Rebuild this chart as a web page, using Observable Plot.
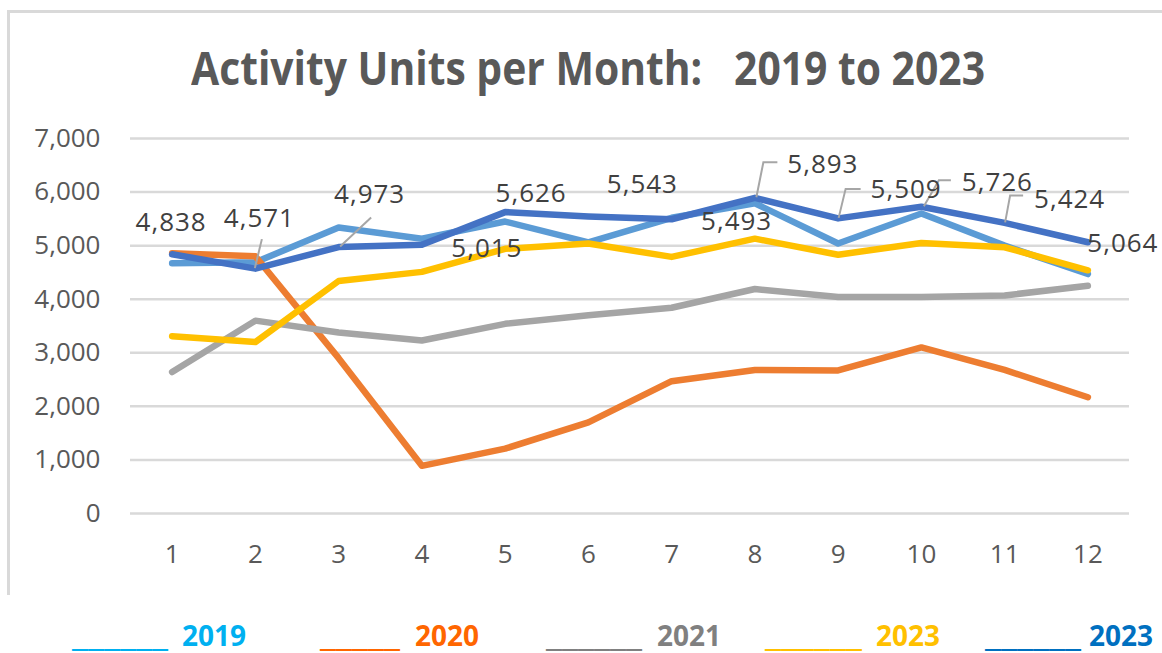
<!DOCTYPE html>
<html><head><meta charset="utf-8">
<script src="https://cdn.jsdelivr.net/npm/d3@7"></script>
<script src="https://cdn.jsdelivr.net/npm/@observablehq/plot@0.6"></script>
<style>
html,body{margin:0;padding:0;background:#fff;width:1162px;height:653px;overflow:hidden;position:relative;font-family:"Open Sans",sans-serif;}
#frame{position:absolute;left:7px;top:10px;width:1300px;height:585px;border-top:3px solid #D9D9D9;border-left:3px solid #D9D9D9;box-sizing:border-box;}
#title{position:absolute;left:191px;top:44px;font-weight:700;font-size:46px;line-height:1;color:#595959;white-space:pre;transform-origin:0 0;}
#chart{position:absolute;left:0;top:110px;}
.leg{position:absolute;top:621px;font-weight:700;font-size:28px;line-height:1;white-space:pre;transform-origin:0 0;}
#chart g[aria-label="text"] text{letter-spacing:1px;}
</style></head><body>
<div id="frame"></div>
<div id="title"></div>
<div id="chart"></div>
<div id="legend"></div>
<script>
// ---- data ----
const titleText = "Activity Units per Month:   2019 to 2023";
const months = [1,2,3,4,5,6,7,8,9,10,11,12];
const yTicks = [0,1000,2000,3000,4000,5000,6000,7000];
const seriesIds = ["s2019","s2020","s2021","s2023a","s2023b"];
const legendLabels = ["2019","2020","2021","2023","2023"];
const s2019  = [4670,4690,5340,5130,5450,5060,5520,5790,5040,5600,5000,4470];
const s2020  = [4860,4800,2900,890,1210,1700,2470,2680,2670,3100,2680,2170];
const s2021  = [2640,3600,3380,3230,3540,3700,3840,4190,4040,4040,4070,4250];
const s2023a = [3310,3200,4340,4510,4940,5040,4790,5130,4830,5050,4970,4540];
const s2023b = [4838,4571,4973,5015,5626,5543,5493,5893,5509,5726,5424,5064];

// ---- styles / layout ----
const lineColors = ["#5B9BD5","#ED7D31","#A5A5A5","#FFC000","#4472C4"];
const legendColors = ["#00B0F0","#FF6600","#808080","#FFC000","#0070C0"];
const legendUnderscores = [6,5,6,6,6];
const legendULeft = [72,320,546,765,985];
const legendUWidth = [96,80,96,97,96];
const legendYLeft = [182,415,657,876,1089];
// label offsets in pixels (label centre x, baseline y) relative to the point
const labelOffsets = [[-1,-23],[4,-42],[31,-44],[65,12],[26,-10],[54,-24],[65,11],[68,-25],[68,-20],[76,-16],[65,-15],[35,10]];
// leader-line paths (pixel offsets from point) keyed by month index
const leaders = [
  [1, [[0,0],[7,-29]]],
  [2, [[2,0],[33,-29]]],
  [7, [[2,0],[9,-35],[23,-35]]],
  [8, [[1,0],[8,-29],[23,-29]]],
  [9, [[3,0],[18,-26],[30,-26]]],
  [10,[[1,0],[6,-27],[19,-27]]]
];

const allSeries = [s2019, s2020, s2021, s2023a, s2023b];
const rows = [];
allSeries.forEach((s, k) => s.forEach((v, i) => rows.push({month: months[i], value: v, series: seriesIds[k]})));

const fmt = d3.format(",d");

function leaderMark(index, scales) {
  const g = d3.create("svg:g").attr("fill", "none").attr("stroke", "#A6A6A6").attr("stroke-width", 2);
  for (const [i, pts] of leaders) {
    const px = scales.x(months[i]), py = scales.y(s2023b[i]);
    g.append("path").attr("d", d3.line()(pts.map(([dx, dy]) => [px + dx, py + dy])));
  }
  return g.node();
}

const labelMarks = months.map((m, i) => Plot.text([i], {
  x: j => months[j], y: j => s2023b[j], text: j => fmt(s2023b[j]),
  dx: labelOffsets[i][0], dy: labelOffsets[i][1],
  lineAnchor: "bottom", textAnchor: "middle", fill: "#404040", fontSize: 26
}));

const chart = Plot.plot({
  width: 1162, height: 470,
  marginLeft: 130, marginRight: 33, marginTop: 28, marginBottom: 67,
  style: {fontFamily: '"Open Sans", sans-serif', fontSize: "26px", color: "#595959", background: "transparent", overflow: "visible"},
  x: {domain: [0.5, 12.5]},
  y: {domain: [0, 7000]},
  color: {domain: seriesIds, range: lineColors},
  marks: [
    Plot.ruleY(yTicks, {stroke: "#D9D9D9", strokeWidth: 2.5}),
    Plot.axisY({ticks: yTicks, tickSize: 0, tickPadding: 30, tickFormat: fmt, label: null, fontSize: 26, fill: "#595959"}),
    Plot.axisX({ticks: months, tickSize: 0, tickPadding: 31, label: null, fontSize: 26, fill: "#595959"}),
    Plot.line(rows, {x: "month", y: "value", z: "series", stroke: "series", strokeWidth: 6.5, strokeLinejoin: "round", strokeLinecap: "round"}),
    leaderMark,
    ...labelMarks
  ]
});
document.getElementById("chart").appendChild(chart);

// title
const t = document.getElementById("title");
t.textContent = titleText;
const tw = t.getBoundingClientRect().width;
t.style.transform = `scaleX(${794 / tw})`;

// legend
const leg = document.getElementById("legend");
legendLabels.forEach((lab, k) => {
  const u = document.createElement("span");
  u.className = "leg";
  u.style.left = legendULeft[k] + "px";
  u.style.color = legendColors[k];
  u.textContent = "_".repeat(legendUnderscores[k]);
  leg.appendChild(u);
  const uw = u.getBoundingClientRect().width;
  u.style.transform = `scaleX(${legendUWidth[k] / uw})`;
  const y = document.createElement("span");
  y.className = "leg";
  y.style.left = legendYLeft[k] + "px";
  y.style.color = legendColors[k];
  y.textContent = lab;
  leg.appendChild(y);
});
</script>
</body></html>
